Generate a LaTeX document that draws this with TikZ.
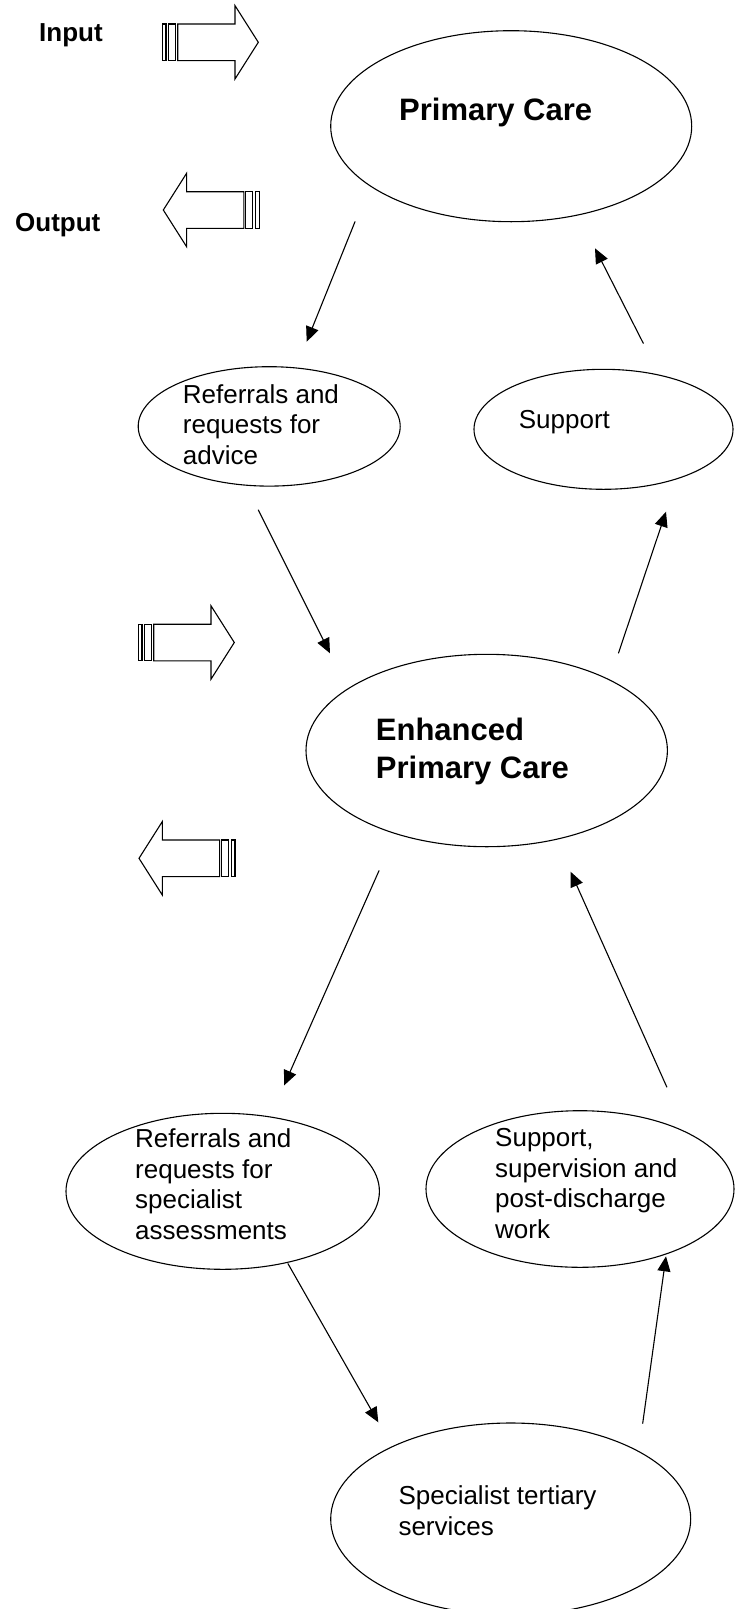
\documentclass[tikz,border=0pt]{standalone}
\usepackage{fontspec}
\setmainfont{Liberation Sans}
\usetikzlibrary{shapes.geometric,arrows.meta}
\tikzset{
  bubble/.style={draw, ellipse, line width=1.1pt, inner sep=0pt},
  txt/.style={font=\fontsize{26}{30.5}\selectfont, align=left, inner sep=0pt, anchor=base west},
  bigtxt/.style={font=\fontsize{31}{37.6}\selectfont\bfseries, align=left, inner sep=0pt, anchor=base west},
  tag/.style={font=\fontsize{26}{30}\selectfont\bfseries, inner sep=0pt, anchor=base west},
  flow/.style={-{Triangle[length=15pt,width=13pt]}, line width=1.1pt},
  fatarrow/.style={draw, line width=1.1pt, line join=miter, fill=white},
}
\begin{document}
\begin{tikzpicture}[x=1pt, y=-1pt, line join=round, line cap=round]
	\useasboundingbox (0,0) rectangle (736,1609);
	\node[bubble, minimum width=361pt, minimum height=191pt] (pc) at (511.2,126.2) {};
	\node[bubble, minimum width=361.4pt, minimum height=192.4pt] (enh) at (486.7,750.5) {};
	\node[bubble, minimum width=360pt, minimum height=192pt] (tert) at (510.7,1519) {};
	\node[bubble, minimum width=262pt, minimum height=119.4pt] (adv) at (269.2,426.4) {};
	\node[bubble, minimum width=259pt, minimum height=120pt] (supp) at (603.5,429.3) {};
	\node[bubble, minimum width=313.4pt, minimum height=156pt] (refspec) at (222.7,1191.3) {};
	\node[bubble, minimum width=308pt, minimum height=156.6pt] (supsup) at (580,1189) {};
	% base of a text node is the baseline of its last line
	\node[bigtxt] (pctext) at (399,120) {Primary Care};
	\node[bigtxt] (enhtext) at (375.7,778.3) {Enhanced\\Primary Care};
	\node[txt] (advtext) at (182.7,464) {Referrals and\\requests for\\advice};
	\node[txt] (supptext) at (518.7,428.3) {Support};
	\node[txt] (refspectext) at (135,1239) {Referrals and\\requests for\\specialist\\assessments};
	\node[txt] (supsuptext) at (495,1238.3) {Support,\\supervision and\\post-discharge\\work};
	\node[txt] (terttext) at (398.3,1535) {Specialist tertiary\\services};
	\node[tag] (inlabel) at (39,41) {Input};
	\node[tag] (outlabel) at (15,231) {Output};
	\foreach \x/\y/\s in {162.3/42.3/1, 259.3/210/-1, 138.3/642.5/1, 235/858.3/-1}{
		\begin{scope}[shift={(\x,\y)}, xscale=\s]
			\draw[fatarrow] (0,-18.3) rectangle (3.7,18.3);
			\draw[fatarrow] (6.4,-18.3) rectangle (13.4,18.3);
			\draw[fatarrow] (15.4,-18.3)--(72.7,-18.3)--(72.7,-36.7)--(96,0)--(72.7,36.7)--(72.7,18.3)--(15.4,18.3)--cycle;
		\end{scope}
	}
	\coordinate (pcout) at (355,221.7);
	\coordinate (advin) at (306.7,341.7);
	\coordinate (suppout) at (643.3,343.3);
	\coordinate (pcin) at (595,248.3);
	\coordinate (advout) at (258.3,510);
	\coordinate (enhin) at (330,653.3);
	\coordinate (enhout) at (618.5,653);
	\coordinate (suppin) at (666,511.7);
	\coordinate (enhdown) at (379,870.7);
	\coordinate (refspecin) at (284,1085.5);
	\coordinate (supsupout) at (666.8,1087);
	\coordinate (enhup) at (570.6,871.7);
	\coordinate (refspecout) at (288,1263.7);
	\coordinate (tertin) at (378.3,1422.3);
	\coordinate (tertout) at (642.7,1423.3);
	\coordinate (supsupin) at (666,1256.3);
	\foreach \a/\b in {pcout/advin, suppout/pcin, advout/enhin, enhout/suppin, enhdown/refspecin, supsupout/enhup, refspecout/tertin, tertout/supsupin}
		\draw[flow] (\a)--(\b);
\end{tikzpicture}
\end{document}
